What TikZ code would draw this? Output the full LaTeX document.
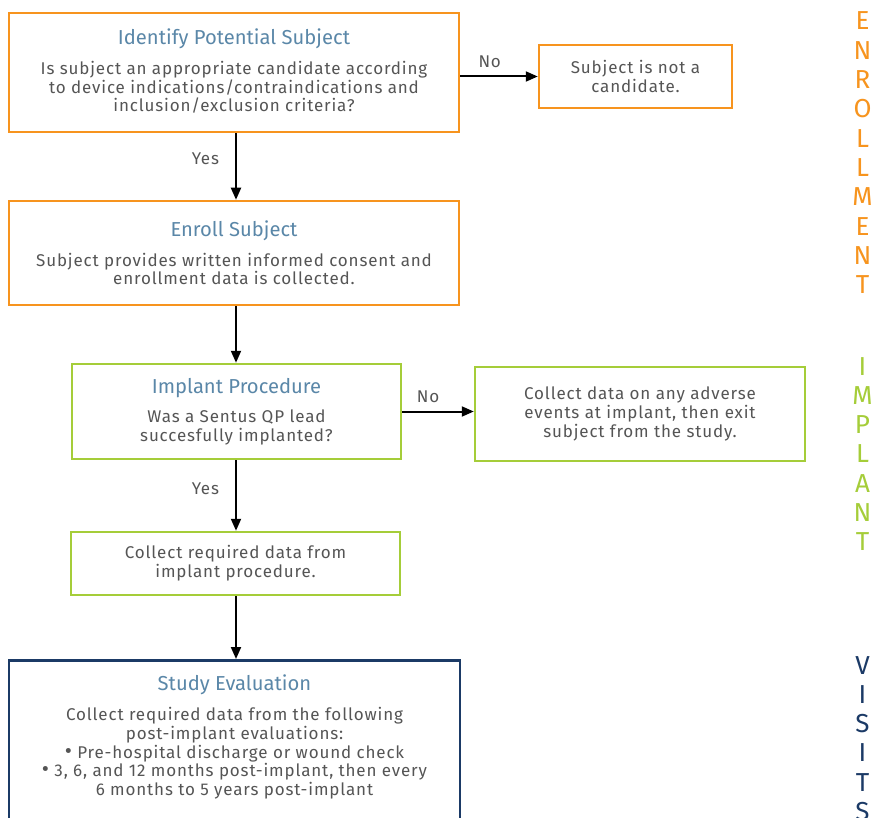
\documentclass[tikz,border=0pt]{standalone}
\usepackage{fontspec}
\usetikzlibrary{arrows.meta}
\setmainfont{Fira Sans}
\newfontfamily\bodyfnt{Fira Sans}[LetterSpace=5]
\definecolor{orng}{HTML}{F7941E}
\definecolor{grn}{HTML}{A5CD39}
\definecolor{navy}{HTML}{1B3A66}
\definecolor{ttl}{HTML}{5A87A8}
\definecolor{txt}{HTML}{555555}
\newcommand{\ttlfmt}[1]{{\rmfamily\fontsize{20.2}{24}\selectfont\color{ttl}#1}}
\newcommand{\bul}{{\fontsize{22}{18.7}\selectfont •}}
\tikzset{
  box/.style={draw, line width=2.5pt, rectangle, align=center, inner sep=0pt,
    text=txt, font=\bodyfnt\fontsize{17}{18.7}\selectfont},
  obox/.style={box, draw=orng},
  gbox/.style={box, draw=grn},
  nbox/.style={box, draw=navy},
  arr/.style={line width=2pt, -{Triangle[length=12pt,width=10pt]}},
  lbl/.style={text=txt, font=\bodyfnt\fontsize{17}{18.7}\selectfont, inner sep=0pt},
  side/.style={font=\rmfamily\fontsize{26}{30}\selectfont, inner sep=0pt, anchor=base}
}
\begin{document}
\begin{tikzpicture}[x=1pt,y=-1pt]
\useasboundingbox (0,0) rectangle (872,818);
\clip (0,0) rectangle (872,818);
\fill[white] (0,0) rectangle (872,818);
\coordinate (ax) at (236,0);

\node[obox, minimum width=450, minimum height=119, text depth=4pt] (idb) at (234,72.5)
  {\ttlfmt{Identify Potential Subject}\\[11pt]
   Is subject an appropriate candidate according\\to device indications/contraindications and\\inclusion/exclusion criteria?};
\node[obox, minimum width=193, minimum height=63] (notc) at (635.5,76.5)
  {Subject is not a\\candidate.};
\node[obox, minimum width=450, minimum height=104] (enroll) at (234,253)
  {\ttlfmt{Enroll Subject}\\[11pt]
   Subject provides written informed consent and\\enrollment data is collected.};
\node[gbox, minimum width=329, minimum height=95] (impl) at (236.5,411.5)
  {\ttlfmt{Implant Procedure}\\[11pt]
   Was a Sentus QP lead\\succesfully implanted?};
\node[gbox, minimum width=330, minimum height=94] (adv) at (640,414)
  {Collect data on any adverse\\events at implant, then exit\\subject from the study.};
\node[gbox, minimum width=329, minimum height=63] (coll) at (235.5,563.5)
  {Collect required data from\\implant procedure.};
\node[nbox, minimum width=451, minimum height=200, anchor=north] (eval) at (234.5,659) {};
\node[lbl, align=center, anchor=north] (evaltxt) at ([yshift=-16pt]eval.north)
  {\ttlfmt{Study Evaluation}\\[11pt]
   Collect required data from the following\\post-implant evaluations:\\
   \bul\ Pre-hospital discharge or wound check\\
   \bul\ 3, 6, and 12 months post-implant, then every\\
   6 months to 5 years post-implant};

\draw[arr] (idb.south -| ax) -- (enroll.north -| ax) node[lbl, pos=0.38, left=16pt] (yes1) {Yes};
\draw[arr] (enroll.south -| ax) -- (impl.north -| ax);
\draw[arr] (impl.south -| ax) -- (coll.north -| ax) node[lbl, pos=0.4, left=16pt] (yes2) {Yes};
\draw[arr] (coll.south -| ax) -- (eval.north -| ax);
\draw[arr] (idb.east |- notc.west) -- (notc.west) node[lbl, pos=0.38, above=8pt] (no1) {No};
\draw[arr] (impl.east) -- (impl.east -| adv.west) node[lbl, pos=0.36, above=8pt] (no2) {No};

\foreach \l [count=\i from 0] in {E,N,R,O,L,L,M,E,N,T}
  \node[side, text=orng] (en\i) at (862.5,30+29.3*\i) {\l};
\foreach \l [count=\i from 0] in {I,M,P,L,A,N,T}
  \node[side, text=grn] (im\i) at (862.5,375+29.3*\i) {\l};
\foreach \l [count=\i from 0] in {V,I,S,I,T,S}
  \node[side, text=navy] (vi\i) at (862.5,674+29.3*\i) {\l};
\end{tikzpicture}
\end{document}
